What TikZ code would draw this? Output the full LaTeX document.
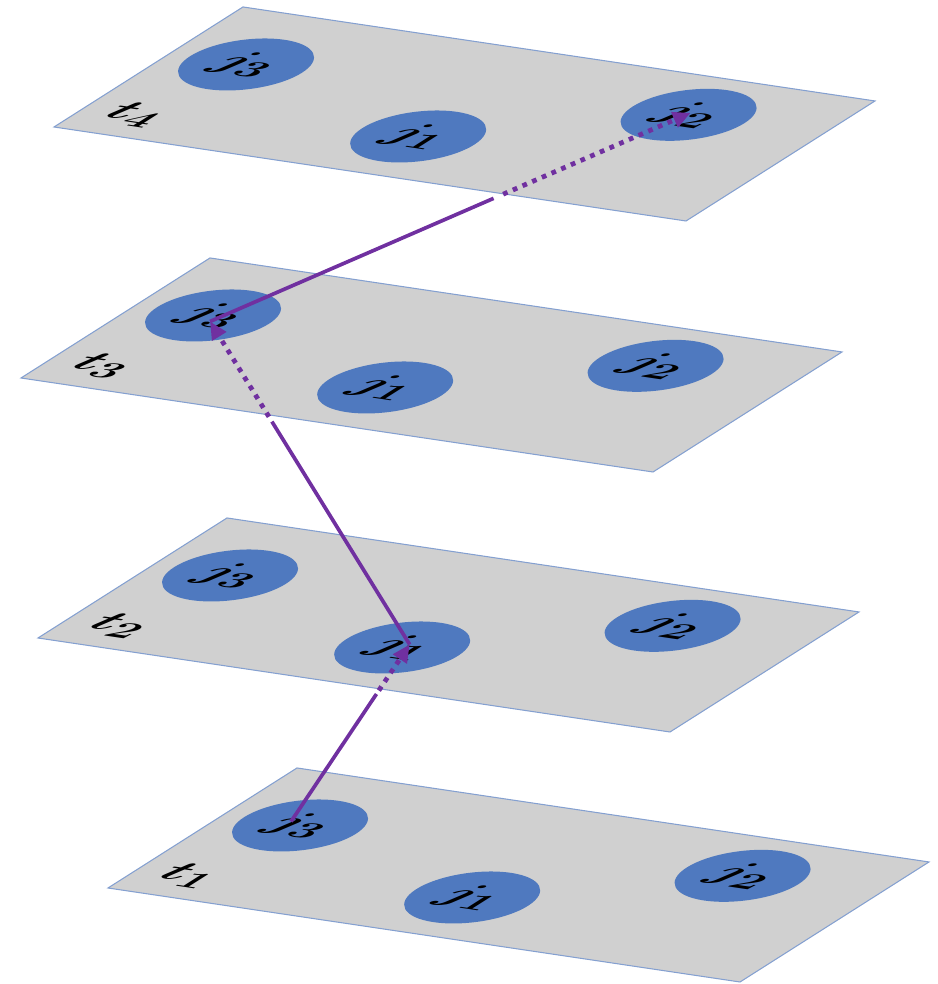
\documentclass[tikz,border=0pt]{standalone}
\usepackage{tikz}
\usetikzlibrary{arrows.meta,calc}
\definecolor{planegray}{RGB}{208,208,208}
\definecolor{planeedge}{RGB}{132,160,208}
\definecolor{jobblue}{RGB}{79,121,191}
\definecolor{pathpurple}{RGB}{112,48,160}

\begin{document}
\begin{tikzpicture}[
    plane/.style={fill=planegray, draw=planeedge, line width=0.6pt},
    job/.style={circle, fill=jobblue, minimum size=1.768cm, inner sep=0pt, transform shape, font=\fontsize{28}{32}\selectfont\boldmath},
    slot/.style={transform shape, inner sep=0pt, font=\fontsize{28}{32}\selectfont\boldmath},
    link/.style={pathpurple, line width=2.1pt},
    hidden/.style={pathpurple, line width=2.7pt, dash pattern=on 2.7pt off 3.3pt, -{Triangle[length=10pt,width=9pt]}}
]
\useasboundingbox (0,0) rectangle (18.76,19.68);

% time slice t4
\begin{scope}[cm={1.264,-0.188,0.877,0.557,(1.08,17.14)}]
\draw[plane] (0,0) rectangle (10,4.31);
\node[slot] (t4lab) at (0.8,0.7) {$t_4$};
\node[job] (t4j3) at (1.2,2.65) {$j_3$};
\node[job] (t4j1) at (4.86,1.3) {$j_1$};
\node[job] (t4j2) at (7.89,3.1) {$j_2$};
\end{scope}

% time slice t3
\begin{scope}[cm={1.264,-0.188,0.877,0.557,(0.42,12.12)}]
\draw[plane] (0,0) rectangle (10,4.31);
\node[slot] (t3lab) at (0.8,0.7) {$t_3$};
\node[job] (t3j3) at (1.2,2.65) {$j_3$};
\node[job] (t3j1) at (4.86,1.3) {$j_1$};
\node[job] (t3j2) at (7.89,3.1) {$j_2$};
\end{scope}

% time slice t2
\begin{scope}[cm={1.264,-0.188,0.877,0.557,(0.76,6.92)}]
\draw[plane] (0,0) rectangle (10,4.31);
\node[slot] (t2lab) at (0.8,0.7) {$t_2$};
\node[job] (t2j3) at (1.2,2.65) {$j_3$};
\node[job] (t2j1) at (4.86,1.3) {$j_1$};
\node[job] (t2j2) at (7.89,3.1) {$j_2$};
\end{scope}

% time slice t1
\begin{scope}[cm={1.264,-0.188,0.877,0.557,(2.16,1.92)}]
\draw[plane] (0,0) rectangle (10,4.31);
\node[slot] (t1lab) at (0.8,0.7) {$t_1$};
\node[job] (t1j3) at (1.2,2.65) {$j_3$};
\node[job] (t1j1) at (4.86,1.3) {$j_1$};
\node[job] (t1j2) at (7.89,3.1) {$j_2$};
\end{scope}

% path of the job through the slices
\coordinate (p1) at ([shift={(-0.18,0.08)}]t1j3.center);
\coordinate (p2) at ([shift={(0.15,0.06)}]t2j1.center);
\coordinate (p3) at ([shift={(-0.06,-0.12)}]t3j3.center);
\coordinate (p4) at ([shift={(0.04,0.04)}]t4j2.center);

\draw[link] (p1) -- ($(p1)!0.72!(p2)$);
\draw[hidden] ($(p1)!0.74!(p2)$) -- (p2);
\draw[link] (p2) -- ($(p2)!0.69!(p3)$);
\draw[hidden] ($(p2)!0.705!(p3)$) -- (p3);
\draw[link] (p3) -- ($(p3)!0.59!(p4)$);
\draw[hidden] ($(p3)!0.61!(p4)$) -- (p4);
\end{tikzpicture}
\end{document}
